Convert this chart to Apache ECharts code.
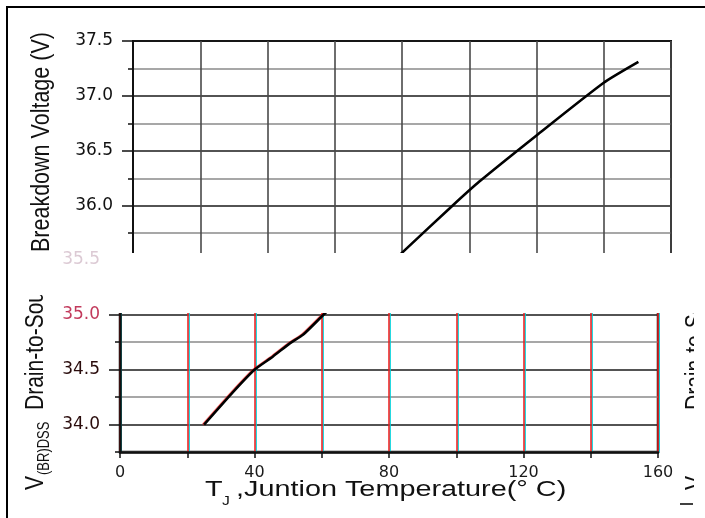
<!DOCTYPE html>
<html><head><meta charset="utf-8">
<script src="https://cdn.jsdelivr.net/npm/echarts@6/dist/echarts.min.js"></script>
<style>html,body{margin:0;padding:0;background:#fff}#c{width:705px;height:518px}</style>
</head><body><div id="c"></div>
<script>
// Junction temperature (°C) and breakdown voltage (V)
const tempC = [25, 34, 40, 45.5, 50.5, 54.5, 60.5, 81, 95, 103, 120, 140, 150.3];
const voltV = [34.0, 34.31, 34.5, 34.62, 34.74, 34.82, 35.0, 35.6, 36.0, 36.22, 36.64, 37.12, 37.31];
const xLabelValues = [0, 40, 80, 120, 160];
const yLabelsTop = [36.0, 36.5, 37.0, 37.5];
const yLabelsBottom = [34.0, 34.5, 35.0];
const yMajorTop = [35.5, 36.0, 36.5, 37.0, 37.5];
const yMajorBottom = [34.0, 34.5, 35.0, 35.5];
const fadedLabel = 35.5;

const pts = tempC.map((t, i) => [t, voltV[i]]);
const tickFont = 'DejaVu Sans';
const titleFont = 'Liberation Sans';

const chart = echarts.init(document.getElementById('c'), null, {renderer: 'canvas'});

function rotText(x, y, text, size, z) {
  return {type: 'text', x: x, y: y, rotation: Math.PI / 2, scaleY: 1.2, z: z || 50, silent: true,
    style: {text: text, fontFamily: titleFont, fontSize: size, fill: '#111', align: 'left', verticalAlign: 'middle'}};
}
function hText(x, y, text, size) {
  return {type: 'text', x: x, y: y, scaleX: 1.31, z: 50, silent: true,
    style: {text: text, fontFamily: titleFont, fontSize: size, fill: '#111', align: 'left', verticalAlign: 'middle'}};
}

const option = {
  animation: false,
  backgroundColor: '#fff',
  grid: [
    {left: 133, top: 41, width: 538, height: 219.6, show: true, borderColor: '#111', borderWidth: 2, backgroundColor: 'transparent'},
    {left: 120, top: 259.9, width: 538, height: 192.1, show: true, borderColor: '#111', borderWidth: 2.5, backgroundColor: 'transparent'}
  ],
  xAxis: [
    {gridIndex: 0, type: 'value', min: 0, max: 160, interval: 20,
      axisLine: {show: false}, axisTick: {show: false}, axisLabel: {show: false},
      splitLine: {show: true, lineStyle: {color: '#4a4a4a', width: 1.6}}},
    {gridIndex: 1, type: 'value', min: 0, max: 160, interval: 20,
      axisLine: {show: true, onZero: false, lineStyle: {color: '#111', width: 2.5}},
      axisTick: {show: true, length: 6, lineStyle: {color: '#111', width: 1.5}},
      axisLabel: {margin: 13, fontFamily: tickFont, fontSize: 16, color: '#1a1a1a',
        formatter: v => xLabelValues.includes(v) ? String(v) : ''},
      splitLine: {show: true, lineStyle: {color: '#f01818', width: 1.5, shadowColor: 'rgba(0,210,220,0.9)', shadowOffsetX: 1.2, shadowBlur: 0}}}
  ],
  yAxis: [
    {gridIndex: 0, type: 'value', position: 'left', min: 35.5, max: 37.5, interval: 0.25,
      axisLine: {show: true, onZero: false, lineStyle: {color: '#111', width: 2}},
      axisTick: {show: true, length: 5, lineStyle: {color: '#111', width: 1.5}},
      axisLabel: {margin: 20, fontFamily: tickFont, fontSize: 17, color: '#111',
        formatter: v => yLabelsTop.includes(v) ? v.toFixed(1) : ''},
      splitLine: {show: true, lineStyle: {color: ['#1a1a1a', '#8a8a8a'], width: 1.5}}},
    {gridIndex: 0, type: 'value', position: 'left', min: 35.5, max: 37.5,
      axisLine: {show: false}, axisLabel: {show: false}, splitLine: {show: false},
      axisTick: {show: true, length: 11, customValues: yMajorTop, lineStyle: {color: '#111', width: 1.5}}},
    {gridIndex: 1, type: 'value', position: 'left', min: 33.75, max: 35.5, interval: 0.25,
      axisLine: {show: true, onZero: false, lineStyle: {color: '#111', width: 2.5}},
      axisTick: {show: true, length: 5, lineStyle: {color: '#111', width: 1.5}},
      axisLabel: {margin: 20, fontFamily: tickFont, fontSize: 17, color: '#2a0c0c',
        formatter: v => v === fadedLabel ? '{f|' + v.toFixed(1) + '}' :
          (v === 35.0 ? '{r|' + v.toFixed(1) + '}' : (yLabelsBottom.includes(v) ? v.toFixed(1) : '')),
        rich: {f: {color: '#dccad4', fontFamily: tickFont, fontSize: 17},
               r: {color: '#c23a5c', fontFamily: tickFont, fontSize: 17}}},
      splitLine: {show: true, lineStyle: {color: ['#8a8a8a', '#1a1a1a'], width: 1.5}}},
    {gridIndex: 1, type: 'value', position: 'left', min: 33.75, max: 35.5,
      axisLine: {show: false}, axisLabel: {show: false}, splitLine: {show: false},
      axisTick: {show: true, length: 11, customValues: yMajorBottom, lineStyle: {color: '#111', width: 1.5}}}
  ],
  series: [
    {type: 'line', xAxisIndex: 0, yAxisIndex: 0, data: pts, symbol: 'none', clip: true, silent: true, z: 5, smooth: 0.2,
      lineStyle: {color: '#000', width: 2.6}},
    {type: 'line', xAxisIndex: 1, yAxisIndex: 2, data: pts, symbol: 'none', clip: true, silent: true, z: 5, smooth: 0.2,
      lineStyle: {color: '#000', width: 2.6, shadowColor: 'rgba(255,0,0,0.6)', shadowOffsetX: -1, shadowBlur: 0}}
  ],
  graphic: [
    // outer frame
    {type: 'line', z: 60, silent: true, shape: {x1: 6, y1: 7, x2: 705, y2: 7}, style: {stroke: '#000', lineWidth: 2}},
    {type: 'line', z: 60, silent: true, shape: {x1: 7, y1: 6, x2: 7, y2: 518}, style: {stroke: '#000', lineWidth: 2}},
    {type: 'line', z: 60, silent: true, shape: {x1: 680, y1: 504, x2: 693, y2: 504}, style: {stroke: '#000', lineWidth: 1.5}},
    // axis titles
    {type: 'group', children: [
      rotText(36, 490, 'V', 21),
      rotText(45, 475, '(BR)DSS', 13),
      rotText(36, 410, 'Drain-to-Source', 21),
      rotText(41.5, 252, 'Breakdown Voltage (V)', 21.5),
      rotText(696, 490, 'V', 21),
      rotText(705, 475, '(BR)DSS', 13),
      rotText(696, 410, 'Drain-to-Source', 21),
      hText(205, 490, 'T', 22),
      hText(222, 502, 'J', 12),
      hText(236, 490, ',Juntion Temperature(° C)', 22)
    ]},
    // blank band
    {type: 'rect', z: 100, silent: true, shape: {x: 104, y: 253, width: 590, height: 60}, style: {fill: '#fff'}},
    {type: 'rect', z: 100, silent: true, shape: {x: 18, y: 255, width: 40, height: 40}, style: {fill: '#fff'}},
    {type: 'rect', z: 100, silent: true, shape: {x: 694, y: 240, width: 11, height: 270}, style: {fill: '#fff'}}
  ]
};
chart.setOption(option);
</script>
</body></html>
